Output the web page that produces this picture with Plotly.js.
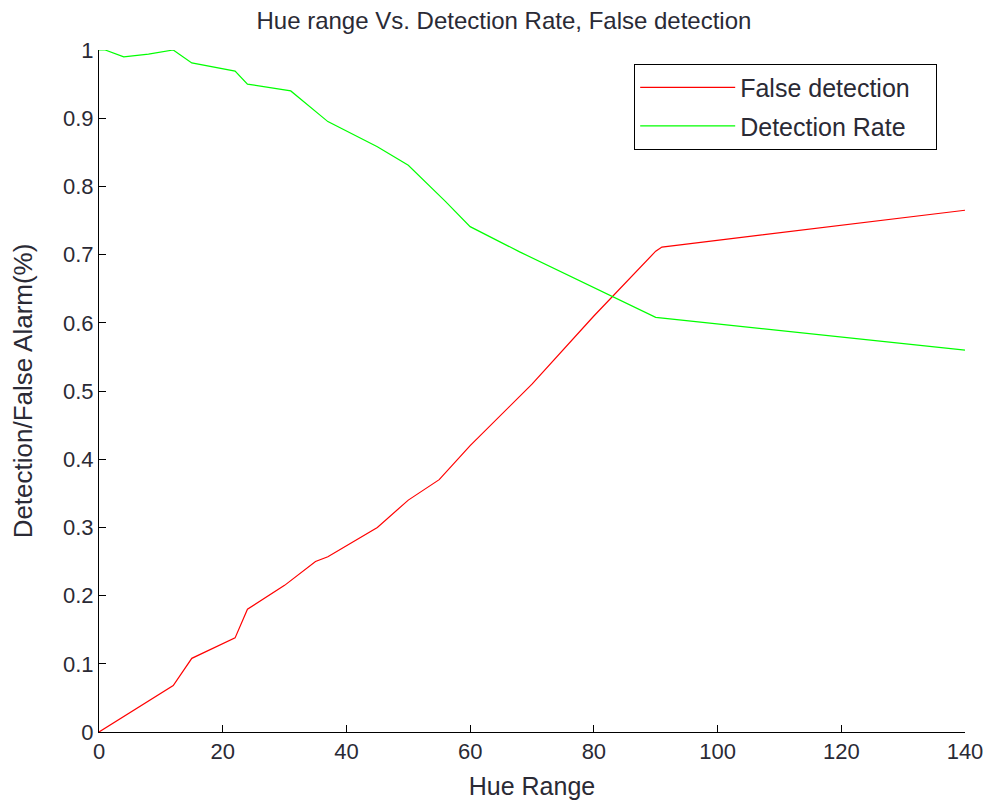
<!DOCTYPE html>
<html>
<head>
<meta charset="utf-8">
<script src="https://cdn.plot.ly/plotly-3.0.1.min.js"></script>
<style>html,body{margin:0;padding:0;background:#fff;}#chart{width:992px;height:806px;}</style>
</head>
<body>
<div id="chart"></div>
<script>
var hueFalse = [0, 12, 15, 22, 24, 30, 35, 37, 45, 50, 55, 60, 70, 80, 90, 91, 140];
var falseDetection = [0, 0.068, 0.108, 0.138, 0.180, 0.215, 0.250, 0.257, 0.300, 0.340, 0.370, 0.420, 0.510, 0.610, 0.705, 0.711, 0.765];
var hueDet = [0, 1, 4, 8, 12, 15, 22, 24, 31, 37, 45, 50, 56, 60, 68, 80, 90, 140];
var detectionRate = [1.0, 1.0, 0.99, 0.994, 1.0, 0.981, 0.969, 0.950, 0.940, 0.895, 0.858, 0.831, 0.778, 0.741, 0.704, 0.652, 0.608, 0.560];
var xTicks = [0, 20, 40, 60, 80, 100, 120, 140];
var yTicks = [0, 0.1, 0.2, 0.3, 0.4, 0.5, 0.6, 0.7, 0.8, 0.9, 1];
var yTickText = ['0', '0.1', '0.2', '0.3', '0.4', '0.5', '0.6', '0.7', '0.8', '0.9', '1'];
var seriesNames = ['False detection', 'Detection Rate'];

var FONT = 'Liberation Sans, Arial, sans-serif';
var TXT = '#2a2a35';
var PAD = '\u00a0\u00a0\u00a0';
var traces = [
  {x: hueFalse, y: falseDetection, type: 'scatter', mode: 'lines', name: seriesNames[0] + PAD,
   legendgroup: 'a', line: {color: '#ff0000', width: 1.2}},
  {x: hueDet, y: detectionRate, type: 'scatter', mode: 'lines', name: seriesNames[1] + PAD,
   legendgroup: 'b', line: {color: '#00ff00', width: 1.2}}
];
var layout = {
  width: 992, height: 806,
  paper_bgcolor: '#ffffff', plot_bgcolor: '#ffffff',
  margin: {l: 99, r: 27, t: 50, b: 74},
  font: {family: FONT, color: TXT},
  title: {text: 'Hue range Vs. Detection Rate, False detection', x: 0.508, xanchor: 'center',
          y: 0.975, yanchor: 'middle', font: {size: 24, family: FONT, color: TXT}},
  xaxis: {range: [0, 140], tickvals: xTicks, ticktext: xTicks.map(String), ticks: 'inside', ticklen: 7,
          tickcolor: '#000', showline: true, linecolor: '#000', linewidth: 1, showgrid: false, zeroline: false,
          tickfont: {size: 22, family: FONT, color: TXT},
          title: {text: 'Hue Range', font: {size: 25, family: FONT, color: TXT}, standoff: 14}},
  yaxis: {range: [0, 1], tickvals: yTicks, ticktext: yTickText, ticks: 'inside', ticklen: 7,
          tickcolor: '#000', showline: true, linecolor: '#000', linewidth: 1, showgrid: false, zeroline: false,
          tickfont: {size: 22, family: FONT, color: TXT},
          title: {text: 'Detection/False Alarm(%)', font: {size: 26, family: FONT, color: TXT}, standoff: 22}},
  showlegend: true,
  legend: {x: 0.618, xanchor: 'left', y: 0.98, yanchor: 'top', bgcolor: '#ffffff',
           bordercolor: '#000', borderwidth: 1, tracegroupgap: 3, itemwidth: 95,
           font: {size: 25, family: FONT, color: TXT}}
};
Plotly.newPlot('chart', traces, layout, {displayModeBar: false, staticPlot: true});
</script>
</body>
</html>
